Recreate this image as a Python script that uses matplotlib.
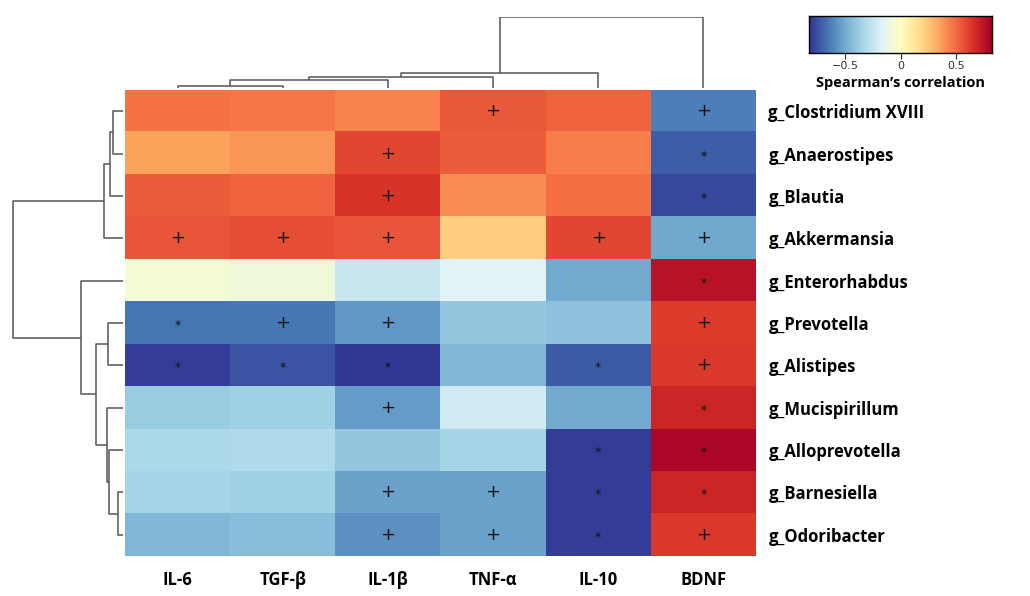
import numpy as np
import matplotlib
matplotlib.use("Agg")
import matplotlib.pyplot as plt
from matplotlib.colors import Normalize

# ---- data ----
cytokines = ["IL-6", "TGF-β", "IL-1β", "TNF-α", "IL-10", "BDNF"]
genera = ["g_Clostridium XVIII", "g_Anaerostipes", "g_Blautia", "g_Akkermansia",
          "g_Enterorhabdus", "g_Prevotella", "g_Alistipes", "g_Mucispirillum",
          "g_Alloprevotella", "g_Barnesiella", "g_Odoribacter"]

rho = np.array([
    [0.48, 0.47, 0.44, 0.55, 0.52, -0.63],
    [0.36, 0.39, 0.60, 0.54, 0.46, -0.72],
    [0.54, 0.52, 0.65, 0.41, 0.49, -0.78],
    [0.56, 0.58, 0.56, 0.23, 0.60, -0.51],
    [-0.07, -0.08, -0.24, -0.16, -0.50, 0.76],
    [-0.66, -0.65, -0.56, -0.40, -0.42, 0.63],
    [-0.81, -0.75, -0.82, -0.46, -0.73, 0.64],
    [-0.38, -0.36, -0.55, -0.22, -0.50, 0.70],
    [-0.33, -0.32, -0.40, -0.35, -0.81, 0.80],
    [-0.35, -0.36, -0.53, -0.53, -0.81, 0.70],
    [-0.46, -0.43, -0.58, -0.53, -0.81, 0.64],
])

# significance marks per cell, one char per cytokine
marks = [
    "   + +",
    "  +  *",
    "  +  *",
    "+++ ++",
    "     *",
    "*++  +",
    "*** *+",
    "  +  *",
    "    **",
    "  ++**",
    "  ++*+",
]

# dendrogram merges (child a, child b, height); ids >= n are earlier merges
col_merge_a = [0, 6, 7, 8, 9]
col_merge_b = [1, 2, 3, 4, 5]
col_merge_h = [2, 8, 11, 15, 71]

row_merge_a = [0, 11, 12, 5, 9, 8, 7, 14, 4, 13]
row_merge_b = [1, 2, 3, 6, 10, 15, 16, 17, 18, 19]
row_merge_h = [10, 13, 19, 15, 5, 14, 16, 27, 42, 110]

vmin, vmax = -0.83, 0.83
cmap = plt.get_cmap("RdYlBu_r")
W, H = 1030, 596
line_col = "#555555"
lab_font = "Open Sans"


def draw_dendro(ax, n, ma, mb, mh, vertical):
    pos = {i: float(i) for i in range(n)}
    hgt = {i: 0.0 for i in range(n)}
    for k, (a, b, h) in enumerate(zip(ma, mb, mh)):
        xs = [pos[a], pos[a], pos[b], pos[b]]
        ys = [hgt[a], h, h, hgt[b]]
        if vertical:
            ax.plot(xs, ys, color=line_col, lw=1.1, solid_capstyle="butt")
        else:
            ax.plot(ys, xs, color=line_col, lw=1.1, solid_capstyle="butt")
        pos[n + k] = (pos[a] + pos[b]) / 2
        hgt[n + k] = h


fig = plt.figure(figsize=(W / 100, H / 100), dpi=100)

def fax(x0, y0, x1, y1):
    return fig.add_axes([x0 / W, 1 - y1 / H, (x1 - x0) / W, (y1 - y0) / H])

# heatmap
ax = fax(125, 90, 756, 556)
norm = Normalize(vmin=vmin, vmax=vmax)
ax.imshow(rho, cmap=cmap, norm=norm, aspect="auto", interpolation="nearest")
for i, row in enumerate(marks):
    for j, m in enumerate(row):
        if m == "+":
            ax.text(j, i, "+", ha="center", va="center", fontsize=13,
                    color="#111111", family="DejaVu Sans")
        elif m == "*":
            ax.text(j, i + 0.06, "*", ha="center", va="center", fontsize=9,
                    color="#111111", family="DejaVu Sans")
ax.set_xticks(range(len(cytokines)))
ax.set_xticklabels(cytokines, fontsize=12, fontweight="bold", family=lab_font)
ax.set_yticks(range(len(genera)))
ax.set_yticklabels(genera, fontsize=12, fontweight="bold", family=lab_font)
ax.yaxis.tick_right()
ax.tick_params(axis="y", length=0, pad=9)
ax.tick_params(axis="x", length=0, pad=11)
for s in ax.spines.values():
    s.set_visible(False)

# top dendrogram
axt = fax(125, 17, 756, 88)
draw_dendro(axt, len(cytokines), col_merge_a, col_merge_b, col_merge_h, True)
axt.set_xlim(-0.5, len(cytokines) - 0.5)
axt.set_ylim(0, 71.5)
axt.axis("off")

# left dendrogram
axl = fax(12, 90, 123, 556)
draw_dendro(axl, len(genera), row_merge_a, row_merge_b, row_merge_h, False)
axl.set_ylim(len(genera) - 0.5, -0.5)
axl.set_xlim(111, 0)
axl.axis("off")

# colorbar
axc = fax(809, 16, 992, 53)
grad = np.linspace(vmin, vmax, 256).reshape(1, -1)
axc.imshow(grad, cmap=cmap, norm=norm, aspect="auto",
           extent=[vmin, vmax, 0, 1])
axc.set_yticks([])
axc.set_xticks([-0.5, 0, 0.5])
axc.set_xticklabels(["\u22120.5", "0", "0.5"])
axc.tick_params(axis="x", labelsize=8, length=4, pad=2, colors="#333333")
for s in axc.spines.values():
    s.set_linewidth(1.0)
axc.set_xlabel("Spearman\u2019s correlation", fontsize=10.5, fontweight="bold",
               family=lab_font, labelpad=3)

fig.savefig("out.png", dpi=100)
